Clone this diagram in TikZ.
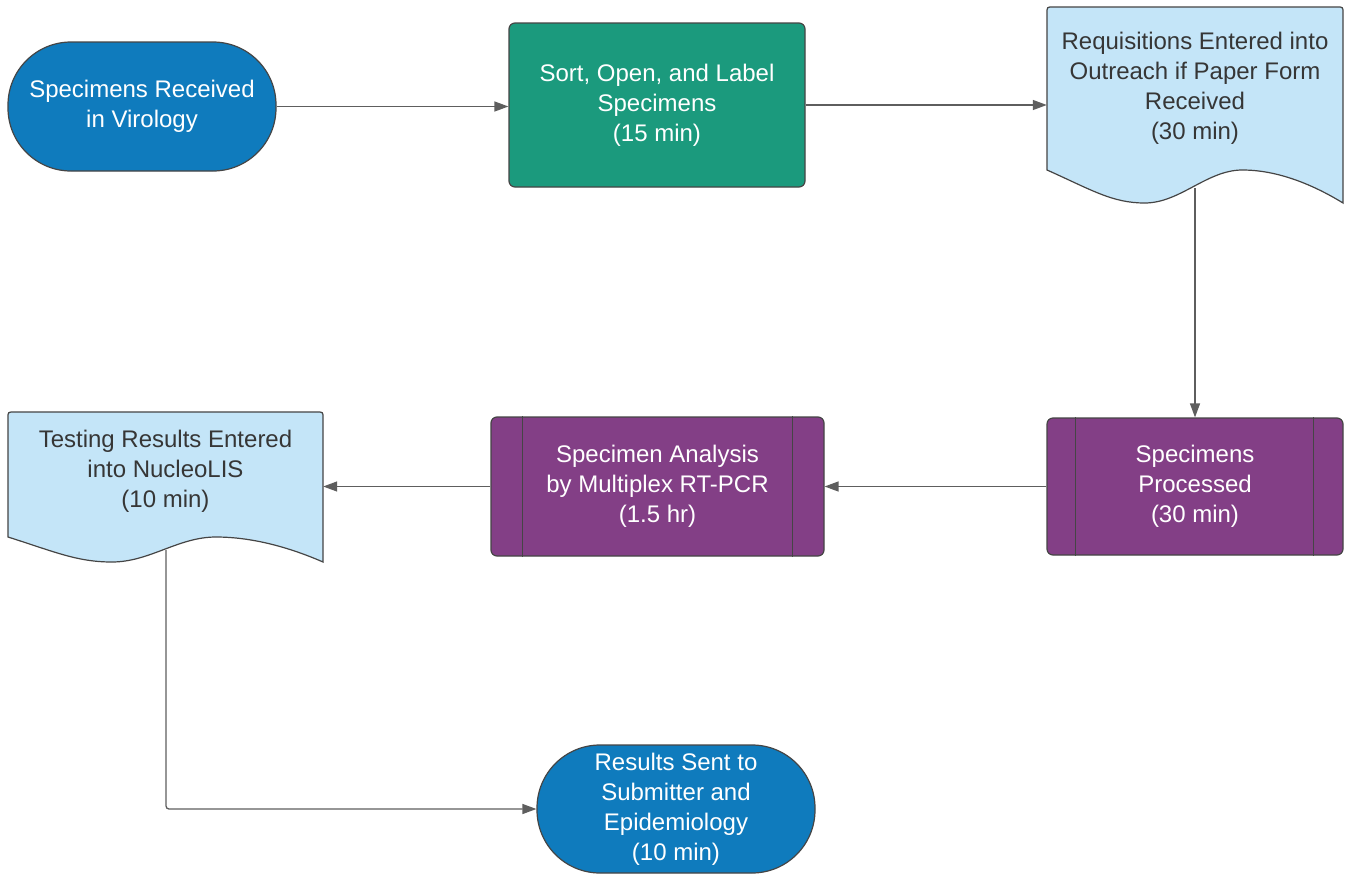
\documentclass[tikz,border=0pt]{standalone}
\usepackage{fontspec}
\setmainfont{Liberation Sans}
\usetikzlibrary{arrows.meta,calc}
\definecolor{tblue}{HTML}{0F7BBD}
\definecolor{tgreen}{HTML}{1B9A7D}
\definecolor{tpurple}{HTML}{833F86}
\definecolor{tlight}{HTML}{C4E5F8}
\definecolor{edge}{HTML}{454545}
\definecolor{conncol}{HTML}{5E5E5E}
\definecolor{darktext}{HTML}{363636}
% document shape: L T R B D
\newcommand{\docshape}[5]{%
  \filldraw[docline] (#1,#4) -- (#1,{#2+6}) .. controls (#1,#2) .. ({#1+6},#2)
    -- ({#3-6},#2) .. controls (#3,#2) .. (#3,{#2+6}) -- (#3,{#4+#5})
    .. controls ({#1+0.9*(#3-#1)},{#4+0.45*#5}) and ({#1+0.78*(#3-#1)},#4) .. ({#1+0.66*(#3-#1)},#4)
    .. controls ({#1+0.54*(#3-#1)},#4) and ({#1+0.45*(#3-#1)},{#4+#5}) .. ({#1+0.33*(#3-#1)},{#4+#5})
    .. controls ({#1+0.22*(#3-#1)},{#4+#5}) and ({#1+0.15*(#3-#1)},{#4+0.6*#5}) .. cycle;}
\begin{document}
\begin{tikzpicture}[x=1pt,y=-1pt,
  base/.style={font=\fontsize{24}{30}\selectfont, align=center, inner sep=0pt},
  term/.style={base, draw=edge, line width=1.2pt, fill=tblue, text=white, rounded corners=63pt},
  procbox/.style={base, draw=edge, line width=1.2pt, fill=tgreen, text=white, rounded corners=6pt},
  subbox/.style={base, draw=edge, line width=1.2pt, fill=tpurple, text=white, rounded corners=6pt},
  doctext/.style={base, text=darktext},
  docline/.style={draw=edge, line width=1.2pt, fill=tlight},
  barline/.style={draw=edge, line width=1.2pt},
  conn/.style={draw=conncol, line width=1.3pt, -{Triangle[length=14pt,width=10pt]}}]
\useasboundingbox (0,0) rectangle (1350,876);
\fill[white] (0,0) rectangle (1350,876);

% document shapes
\docshape{1047}{7}{1343}{170}{33}
\docshape{8}{412}{323}{537}{25}

\node[term, minimum width=268pt, minimum height=129pt] (t1) at (142,106.5) {Specimens Received\\in Virology};
\node[procbox, minimum width=296pt, minimum height=164pt] (sort) at (657,105) {Sort, Open, and Label\\Specimens\\(15 min)};
\node[doctext, minimum width=296pt] (req) at (1195,88) {Requisitions Entered into\\Outreach if Paper Form\\Received\\(30 min)};
\coordinate (reqb) at (1195,188);
\node[subbox, minimum width=296pt, minimum height=137pt] (proc) at (1195,486.5) {Specimens\\Processed\\(30 min)};
\node[subbox, minimum width=333pt, minimum height=139pt] (ana) at (657.5,486.5) {Specimen Analysis\\by Multiplex RT-PCR\\(1.5 hr)};
\node[doctext, minimum width=315pt] (test) at (165.5,471) {Testing Results Entered\\into NucleoLIS\\(10 min)};
\coordinate (testb) at (166,550);
\node[term, minimum width=278pt, minimum height=128pt] (res) at (676,809) {Results Sent to\\Submitter and\\Epidemiology\\(10 min)};

% side bars
\draw[barline] ([xshift=29pt]proc.north west) -- ([xshift=29pt]proc.south west);
\draw[barline] ([xshift=-30pt]proc.north east) -- ([xshift=-30pt]proc.south east);
\draw[barline] ([xshift=32pt]ana.north west) -- ([xshift=32pt]ana.south west);
\draw[barline] ([xshift=-32pt]ana.north east) -- ([xshift=-32pt]ana.south east);

% connectors
\draw[conn] (t1.east) -- (t1.east -| sort.west);
\draw[conn] (sort.east) -- (sort.east -| req.west);
\draw[conn] (reqb) -- (proc.north);
\draw[conn] (proc.west) -- (proc.west -| ana.east);
\draw[conn] (ana.west) -- (ana.west -| test.east);
\draw[conn, rounded corners=3pt] (testb) |- (res.west);
\end{tikzpicture}
\end{document}
